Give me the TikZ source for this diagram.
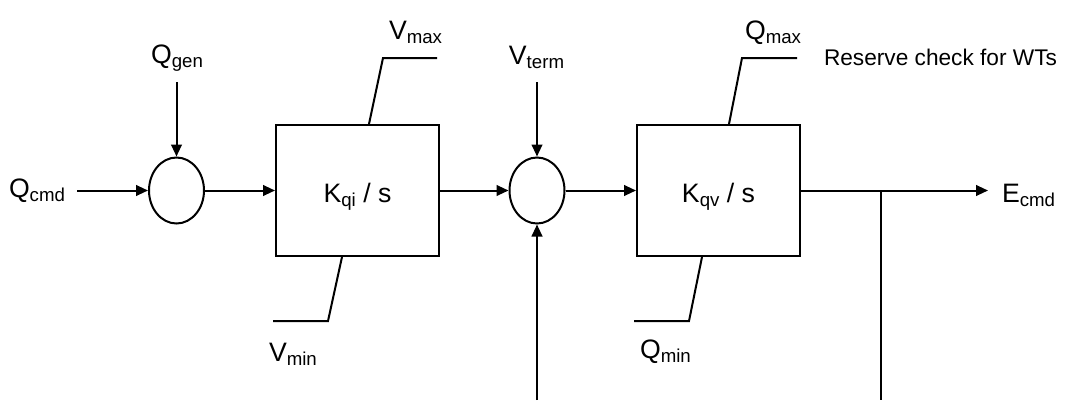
\documentclass[tikz,border=0pt]{standalone}
\usepackage{fontspec}
\setmainfont{Liberation Sans}
\usetikzlibrary{arrows.meta,shapes.geometric,calc}
\newcommand{\lbl}[2]{#1\raisebox{-3pt}{\fontsize{14}{15}\selectfont #2}}
\begin{document}
\begin{tikzpicture}[x=0.75pt,y=-0.75pt, line width=1.5pt,
  arr/.style={-{Triangle[length=9pt,width=8pt]}},
  sumnode/.style={draw, ellipse, minimum width=41.25pt, minimum height=49.5pt, inner sep=0pt},
  blk/.style={draw, rectangle, minimum width=122.25pt, minimum height=98.25pt, inner sep=0pt,
              text height=17.25pt, text depth=0pt, font=\fontsize{20}{24}\selectfont},
  lab/.style={inner sep=0pt, font=\fontsize{20}{24}\selectfont},
  note/.style={inner sep=0pt, font=\fontsize{17}{20}\selectfont}]
\useasboundingbox (0,0) rectangle (1066,400);

\node[sumnode] (sum1) at (176.5,190.5) {};
\node[sumnode] (sum2) at (537,190.5) {};
\node[blk] (box1) at (357.5,190.5) {\lbl{K}{qi} / s};
\node[blk] (box2) at (718.5,190.5) {\lbl{K}{qv} / s};

\node[lab, anchor=base west] (qcmd) at (8,197) {\lbl{Q}{cmd}};
\node[lab, anchor=base] (qgen) at (177,63) {\lbl{Q}{gen}};
\node[lab, anchor=base west] (vmax) at (388,39) {\lbl{V}{max}};
\node[lab, anchor=base west] (vmin) at (268,361) {\lbl{V}{min}};
\node[lab, anchor=base] (vterm) at (536.5,64) {\lbl{V}{term}};
\node[lab, anchor=base west] (qmax) at (744,39) {\lbl{Q}{max}};
\node[lab, anchor=base west] (qmin) at (639,358) {\lbl{Q}{min}};
\node[note, anchor=base west] (res) at (823,65) {Reserve check for WTs};
\node[lab, anchor=base west] (ecmd) at (1001,202) {\lbl{E}{cmd}};

\coordinate (cin) at (77,190.5);
\coordinate (gin) at (176.5,82);
\coordinate (tin) at (537,82);
\coordinate (eout) at (988,190.5);
\coordinate (br) at (881,190.5);
\coordinate (brb) at (881,400);
\coordinate (fbb) at (537,400);

\draw[arr] (cin) -- (sum1.west);
\draw[arr] (gin) -- (sum1.north);
\draw[arr] (sum1.east) -- (box1.west);
\draw[arr] (box1.east) -- (sum2.west);
\draw[arr] (tin) -- (sum2.north);
\draw[arr] (sum2.east) -- (box2.west);
\draw[arr] (box2.east) -- (eout);
\draw (br) -- (brb);
\draw[arr] (fbb) -- (sum2.south);

\draw ($(box1.north)+(11.5,0)$) -- (383,58) -- (437,58);
\draw ($(box1.south)+(-15.5,0)$) -- (328,321) -- (273,321);
\draw ($(box2.north)+(10.5,0)$) -- (742,58) -- (797,58);
\draw ($(box2.south)+(-16.5,0)$) -- (689,321) -- (634,321);
\end{tikzpicture}
\end{document}
